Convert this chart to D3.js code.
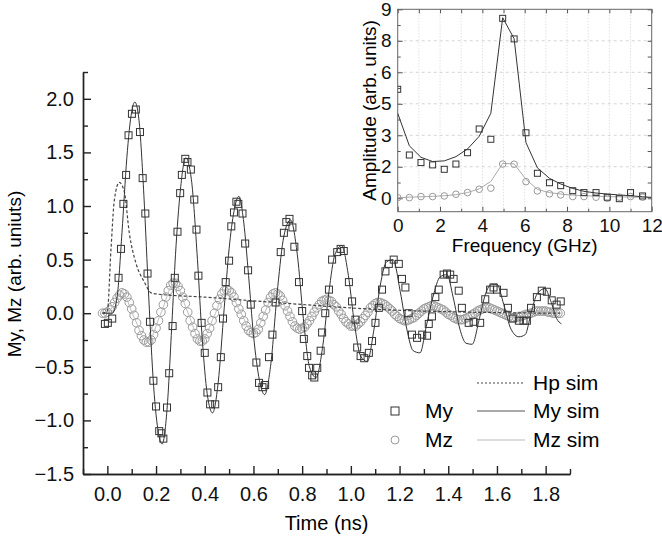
<!DOCTYPE html>
<html>
<head>
<meta charset="utf-8">
<script src="https://cdn.jsdelivr.net/npm/d3@7"></script>
<style>
  body { margin: 0; background: #fff; }
  text { font-family: "Liberation Sans", Arial, sans-serif; }
</style>
</head>
<body>
<div id="chart"></div>
<script>
// Data - main plot (time in ns, magnetisation in arb. units)

var myMeasured = [
  [-0.01,-0.10],[0.002,-0.09],[0.02,-0.05],[0.046,0.33],[0.056,0.60],[0.066,1.02],[0.077,1.29],
  [0.087,1.66],[0.101,1.86],[0.117,1.90],[0.134,1.69],[0.145,1.26],[0.156,0.93],[0.165,0.37],
  [0.175,-0.08],[0.189,-0.63],[0.200,-0.87],[0.213,-1.10],[0.222,-1.12],[0.230,-1.17],[0.245,-0.88],
  [0.254,-0.56],[0.268,-0.12],[0.277,0.33],[0.288,0.76],[0.299,1.12],[0.306,1.29],[0.320,1.44],
  [0.329,1.41],[0.343,1.34],[0.357,1.06],[0.366,0.78],[0.374,0.35],[0.387,-0.09],[0.400,-0.37],
  [0.411,-0.74],[0.422,-0.85],[0.443,-0.85],[0.455,-0.69],[0.466,-0.41],[0.475,-0.05],[0.486,0.29],
  [0.500,0.49],[0.509,0.81],[0.520,0.94],[0.530,1.04],[0.538,1.02],[0.555,0.93],[0.566,0.65],
  [0.578,0.40],[0.589,0.08],[0.612,-0.46],[0.623,-0.65],[0.637,-0.69],[0.648,-0.67],[0.664,-0.41],
  [0.678,-0.20],[0.691,0.10],[0.712,0.57],[0.725,0.75],[0.735,0.85],[0.748,0.88],[0.760,0.80],
  [0.768,0.62],[0.787,0.29],[0.800,0.02],[0.807,-0.24],[0.821,-0.40],[0.828,-0.51],[0.841,-0.58],
  [0.850,-0.60],[0.862,-0.51],[0.876,-0.35],[0.882,-0.18],[0.895,0.00],[0.910,0.22],[0.923,0.50],
  [0.944,0.57],[0.958,0.60],[0.971,0.58],[0.992,0.29],[1.005,0.11],[1.019,-0.06],[1.026,-0.32],
  [1.040,-0.40],[1.055,-0.42],[1.074,-0.37],[1.087,-0.26],[1.101,-0.09],[1.115,0.05],[1.128,0.22],
  [1.142,0.39],[1.156,0.46],[1.176,0.50],[1.197,0.46],[1.210,0.32],[1.224,0.24],[1.237,0.00],
  [1.251,-0.20],[1.272,-0.23],[1.293,-0.20],[1.313,-0.21],[1.320,-0.10],[1.333,-0.03],[1.347,0.15],
  [1.361,0.22],[1.381,0.36],[1.395,0.37],[1.408,0.36],[1.422,0.32],[1.443,0.21],[1.456,0.05],
  [1.484,-0.09],[1.504,-0.08],[1.531,-0.09],[1.552,0.13],[1.572,0.22],[1.586,0.24],[1.600,0.22],
  [1.627,0.19],[1.645,0.05],[1.665,-0.05],[1.690,-0.07],[1.709,-0.07],[1.723,-0.07],[1.740,0.05],
  [1.764,0.15],[1.784,0.21],[1.805,0.20],[1.825,0.12],[1.845,0.08],[1.862,0.11]
];

var mySim = [
  [-0.02,0.0],[0.02,0.0],[0.04,0.15],[0.06,0.75],[0.08,1.45],[0.10,1.88],[0.113,1.97],[0.13,1.80],
  [0.15,1.10],[0.17,0.15],[0.19,-0.68],[0.21,-1.12],[0.225,-1.22],[0.245,-0.90],[0.265,-0.10],
  [0.28,0.55],[0.30,1.15],[0.322,1.45],[0.345,1.25],[0.37,0.50],[0.39,-0.25],[0.41,-0.75],
  [0.432,-0.93],[0.455,-0.65],[0.48,0.05],[0.50,0.60],[0.52,0.95],[0.54,1.09],[0.56,0.85],
  [0.58,0.35],[0.60,-0.20],[0.625,-0.63],[0.646,-0.76],[0.67,-0.50],[0.70,0.25],[0.725,0.72],
  [0.752,0.87],[0.78,0.55],[0.805,-0.05],[0.83,-0.50],[0.857,-0.60],[0.885,-0.30],[0.91,0.20],
  [0.935,0.55],[0.962,0.63],[0.99,0.35],[1.015,-0.10],[1.04,-0.40],[1.067,-0.45],[1.095,-0.15],
  [1.12,0.25],[1.147,0.48],[1.173,0.50],[1.203,0.20],[1.23,-0.15],[1.256,-0.35],[1.284,-0.37],
  [1.31,-0.12],[1.337,0.15],[1.367,0.34],[1.395,0.36],[1.42,0.15],[1.448,-0.15],[1.473,-0.28],
  [1.498,-0.29],[1.528,-0.05],[1.553,0.18],[1.578,0.27],[1.60,0.27],[1.628,0.08],[1.658,-0.15],
  [1.69,-0.22],[1.716,-0.20],[1.74,0.00],[1.765,0.18],[1.797,0.23],[1.82,0.12],[1.845,-0.05],
  [1.865,-0.10]
];

var mzStart = -0.02, mzStep = 0.01;
var mzMeasured = [
  0.00,0.00,0.01,0.03,0.06,0.10,0.14,0.17,0.19,0.18,
  0.15,0.10,0.04,-0.02,-0.09,-0.16,-0.21,-0.25,-0.27,-0.27,
  -0.25,-0.20,-0.14,-0.07,0.01,0.08,0.15,0.21,0.26,0.28,
  0.28,0.25,0.21,0.15,0.09,0.01,-0.07,-0.13,-0.19,-0.24,
  -0.26,-0.26,-0.24,-0.19,-0.14,-0.07,0.00,0.07,0.13,0.18,
  0.21,0.22,0.21,0.19,0.15,0.10,0.04,-0.01,-0.07,-0.12,
  -0.16,-0.18,-0.19,-0.18,-0.15,-0.09,-0.03,0.03,0.10,0.15,
  0.18,0.19,0.18,0.16,0.12,0.07,0.02,-0.03,-0.08,-0.12,
  -0.14,-0.15,-0.14,-0.13,-0.10,-0.07,-0.03,0.01,0.05,0.08,
  0.11,0.12,0.13,0.12,0.11,0.08,0.06,0.02,-0.01,-0.05,
  -0.08,-0.10,-0.12,-0.12,-0.12,-0.10,-0.08,-0.05,-0.02,0.01,
  0.05,0.07,0.09,0.10,0.10,0.09,0.08,0.06,0.04,0.02,
  -0.01,-0.03,-0.05,-0.06,-0.07,-0.07,-0.06,-0.05,-0.04,-0.02,
  0.00,0.02,0.04,0.05,0.06,0.07,0.07,0.06,0.05,0.04,
  0.03,0.01,-0.01,-0.02,-0.04,-0.05,-0.06,-0.06,-0.06,-0.05,
  -0.04,-0.03,-0.01,0.00,0.02,0.03,0.04,0.05,0.05,0.05,
  0.04,0.03,0.02,0.01,0.00,-0.01,-0.02,-0.03,-0.04,-0.04,
  -0.04,-0.03,-0.03,-0.02,-0.01,-0.01,0.00,0.01,0.02,0.02,
  0.02,0.02,0.02,0.01,0.01,0.00,0.00,0.00,0.00
];

var mzSim = [
  [-0.02,0.0],[0.0,0.0],[0.03,0.10],[0.06,0.19],[0.11,-0.04],[0.165,-0.27],[0.22,0.0],[0.275,0.28],
  [0.33,0.01],[0.385,-0.26],[0.44,-0.02],[0.49,0.22],[0.545,0.02],[0.60,-0.19],[0.645,0.0],
  [0.69,0.19],[0.74,0.02],[0.79,-0.15],[0.845,-0.01],[0.90,0.13],[0.955,0.0],[1.01,-0.12],
  [1.06,-0.01],[1.115,0.10],[1.17,0.01],[1.225,-0.07],[1.28,0.0],[1.335,0.07],[1.39,0.0],
  [1.45,-0.06],[1.505,0.0],[1.56,0.05],[1.615,0.0],[1.67,-0.04],[1.725,-0.01],[1.78,0.02],
  [1.86,0.0]
];

var hpSim = [
  [-0.02,0.0],[0.0,0.02],[0.015,0.60],[0.029,1.06],[0.049,1.22],[0.07,1.13],[0.09,0.75],
  [0.117,0.47],[0.152,0.29],[0.18,0.19],[0.20,0.18],[0.40,0.15],[0.69,0.10],[1.07,0.04],
  [1.48,0.01],[1.86,0.0]
];

var xTicks = [0, 0.2, 0.4, 0.6, 0.8, 1.0, 1.2, 1.4, 1.6, 1.8];
var yTicks = [-1.5, -1.0, -0.5, 0.0, 0.5, 1.0, 1.5, 2.0];

// Data - inset (frequency in GHz, amplitude in arb. units)

var fftFreq = [0, 0.55, 1.1, 1.65, 2.2, 2.75, 3.3, 3.85, 4.4, 4.96, 5.5, 6.06, 6.6, 7.17, 7.7, 8.27, 8.8, 9.37, 9.9, 10.47, 11.0, 11.57];
var myAmp = [5.19, 2.06, 1.70, 1.59, 1.38, 1.63, 2.17, 3.30, 2.81, 8.57, 7.59, 3.12, 1.19, 0.74, 0.60, 0.36, 0.27, 0.27, 0.05, -0.02, 0.27, 0.11];
var mzAmp = [0.03, 0.03, 0.08, 0.08, 0.11, 0.19, 0.27, 0.43, 0.48, 1.63, 1.62, 0.79, 0.35, 0.21, 0.16, 0.08, 0.08, 0.05, 0.00, 0.05, 0.08, 0.05];

var simFreq = [0, 0.55, 1.1, 1.65, 2.2, 2.75, 3.3, 3.85, 4.4, 4.96, 5.5, 6.06, 6.6, 7.17, 7.7, 8.27, 8.8, 9.37, 9.9, 10.47, 11.0, 11.57, 12];
var mySimAmp = [4.05, 2.50, 1.95, 1.75, 1.78, 1.98, 2.35, 2.95, 4.05, 8.60, 7.60, 2.65, 1.45, 0.95, 0.68, 0.47, 0.33, 0.25, 0.20, 0.16, 0.12, 0.07, 0.04];
var mzSimAmp = [0.03, 0.05, 0.07, 0.09, 0.12, 0.17, 0.27, 0.45, 0.80, 1.66, 1.64, 0.90, 0.42, 0.27, 0.20, 0.15, 0.12, 0.10, 0.08, 0.07, 0.06, 0.05, 0.04];

var insetYTicks = [0, 1.5, 3, 4.5, 6, 7.5, 9];
var insetYLabels = ["0", "2", "3", "5", "6", "8", "9"];
var insetXTicks = [0, 2, 4, 6, 8, 10, 12];

// Size

var w = 662, h = 543;
var fontSize = 20, insetFont = 19, legendFont = 21;

var svg = d3.select("#chart")
  .append("svg")
    .attr("width", w)
    .attr("height", h);

// Scales - main

var x = d3.scaleLinear().domain([-0.1, 1.9]).range([83, 570]);
var y = d3.scaleLinear().domain([-1.5, 2.25]).range([474, 72]);

// Axes - main

svg.append("g")
  .attr("transform", `translate(0, ${y(-1.5)})`)
  .call(d3.axisBottom(x).tickValues(xTicks).tickSizeInner(-8).tickSizeOuter(0)
    .tickPadding(13).tickFormat(d3.format(".1f")));
svg.append("g")
  .attr("transform", `translate(0, ${y(-1.5)})`)
  .call(d3.axisBottom(x).tickValues(d3.range(-0.1, 1.95, 0.2)).tickSizeInner(-5).tickSizeOuter(0)
    .tickFormat(""));

svg.append("g")
  .attr("transform", `translate(${x(-0.1)}, 0)`)
  .call(d3.axisLeft(y).tickValues(yTicks).tickSizeInner(-8).tickSizeOuter(0)
    .tickPadding(9).tickFormat(d3.format(".1f")));
svg.append("g")
  .attr("transform", `translate(${x(-0.1)}, 0)`)
  .call(d3.axisLeft(y).tickValues(d3.range(-1.25, 2.3, 0.5)).tickSizeInner(-5).tickSizeOuter(0)
    .tickFormat(""));

svg.selectAll(".domain, .tick line").attr("stroke", "#222").attr("stroke-width", 1.4);
svg.selectAll(".tick text").attr("font-size", fontSize).attr("fill", "#111")
  .attr("font-family", "Liberation Sans, Arial, sans-serif");

svg.append("text")
  .attr("x", (x(-0.1) + x(1.9)) / 2)
  .attr("y", 530)
  .attr("text-anchor", "middle")
  .attr("font-size", fontSize)
  .text("Time (ns)");

svg.append("text")
  .attr("transform", "translate(21, 274) rotate(-90)")
  .attr("text-anchor", "middle")
  .attr("font-size", 19)
  .text("My, Mz (arb. uniuts)");

// Series - main

var simLine = d3.line()
  .x(d => x(d[0]))
  .y(d => y(d[1]))
  .curve(d3.curveMonotoneX);

svg.append("g")
  .selectAll("circle")
  .data(mzMeasured)
  .enter()
  .append("circle")
    .attr("cx", (d, i) => x(mzStart + i * mzStep))
    .attr("cy", d => y(d))
    .attr("r", 4.3)
    .attr("fill", "none")
    .attr("stroke", "#9a9a9a")
    .attr("stroke-width", 1);

svg.append("path")
  .datum(mzSim)
  .attr("d", simLine)
  .attr("fill", "none")
  .attr("stroke", "#bbb")
  .attr("stroke-width", 1);

svg.append("path")
  .datum(hpSim)
  .attr("d", simLine)
  .attr("fill", "none")
  .attr("stroke", "#444")
  .attr("stroke-width", 1.2)
  .attr("stroke-dasharray", "3,2");

svg.append("path")
  .datum(mySim)
  .attr("d", simLine)
  .attr("fill", "none")
  .attr("stroke", "#333")
  .attr("stroke-width", 1);

var sq = 7;
svg.append("g")
  .selectAll("rect")
  .data(myMeasured)
  .enter()
  .append("rect")
    .attr("x", d => x(d[0]) - sq / 2)
    .attr("y", d => y(d[1]) - sq / 2)
    .attr("width", sq)
    .attr("height", sq)
    .attr("fill", "none")
    .attr("stroke", "#333")
    .attr("stroke-width", 1);

// Legend

var legend = svg.append("g").attr("font-size", legendFont);
var legendRows = [
  {label: "Hp sim", y: 390, stroke: "#444", dash: "2,2"},
  {label: "My sim", y: 418, stroke: "#555", dash: null},
  {label: "Mz sim", y: 447, stroke: "#bbb", dash: null}
];
legendRows.forEach(function (r) {
  legend.append("line")
    .attr("x1", 477).attr("x2", 525)
    .attr("y1", r.y - 7).attr("y2", r.y - 7)
    .attr("stroke", r.stroke)
    .attr("stroke-width", 1.2)
    .attr("stroke-dasharray", r.dash);
  legend.append("text").attr("x", 533).attr("y", r.y).text(r.label);
});
legend.append("rect")
  .attr("x", 391).attr("y", 407).attr("width", 8).attr("height", 8)
  .attr("fill", "none").attr("stroke", "#333");
legend.append("text").attr("x", 425).attr("y", 418).text("My");
legend.append("circle")
  .attr("cx", 395).attr("cy", 440).attr("r", 4)
  .attr("fill", "none").attr("stroke", "#9a9a9a");
legend.append("text").attr("x", 425).attr("y", 447).text("Mz");

// Inset

var fx = d3.scaleLinear().domain([0, 12]).range([397.7, 651.7]);
var fy = d3.scaleLinear().domain([-0.64, 9]).range([211.7, 9.3]);

var inset = svg.append("g");

inset.append("rect")
  .attr("x", fx(0)).attr("y", fy(9))
  .attr("width", fx(12) - fx(0)).attr("height", fy(-0.64) - fy(9))
  .attr("fill", "#fff");

// grid
inset.append("g")
  .selectAll("line")
  .data(d3.range(1, 12))
  .enter()
  .append("line")
    .attr("x1", d => fx(d)).attr("x2", d => fx(d))
    .attr("y1", fy(9)).attr("y2", fy(-0.64))
    .attr("stroke", "#d4d4d4")
    .attr("stroke-dasharray", "1,2");
inset.append("g")
  .selectAll("line")
  .data(insetYTicks.slice(1, -1))
  .enter()
  .append("line")
    .attr("x1", fx(0)).attr("x2", fx(12))
    .attr("y1", d => fy(d)).attr("y2", d => fy(d))
    .attr("stroke", "#d4d4d4")
    .attr("stroke-dasharray", "3,3");

var tickFmt = (d, i) => insetYLabels[i];

inset.append("g")
  .attr("transform", `translate(0, ${fy(-0.64)})`)
  .call(d3.axisBottom(fx).tickValues(insetXTicks).tickSizeInner(-5).tickSizeOuter(0).tickPadding(7));
inset.append("g")
  .attr("transform", `translate(0, ${fy(-0.64)})`)
  .call(d3.axisBottom(fx).tickValues(d3.range(1, 12, 2)).tickSizeInner(-3).tickSizeOuter(0).tickFormat(""));
inset.append("g")
  .attr("transform", `translate(0, ${fy(9)})`)
  .call(d3.axisTop(fx).tickValues(d3.range(0, 13)).tickSizeInner(-4).tickSizeOuter(0).tickFormat(""));

inset.append("g")
  .attr("transform", `translate(${fx(0)}, 0)`)
  .call(d3.axisLeft(fy).tickValues(insetYTicks).tickSizeInner(-5).tickSizeOuter(0).tickPadding(6)
    .tickFormat(tickFmt));
inset.append("g")
  .attr("transform", `translate(${fx(0)}, 0)`)
  .call(d3.axisLeft(fy).tickValues(d3.range(0.75, 9, 1.5)).tickSizeInner(-3).tickSizeOuter(0).tickFormat(""));
inset.append("g")
  .attr("transform", `translate(${fx(12)}, 0)`)
  .call(d3.axisRight(fy).tickValues(d3.range(0, 9.1, 0.75)).tickSizeInner(-4).tickSizeOuter(0).tickFormat(""));

inset.selectAll(".domain").remove();
inset.selectAll(".tick line").attr("stroke", "#555").attr("stroke-width", 1);
inset.selectAll(".tick text").attr("font-size", insetFont).attr("fill", "#111")
  .attr("font-family", "Liberation Sans, Arial, sans-serif");

inset.append("rect")
  .attr("x", fx(0)).attr("y", fy(9))
  .attr("width", fx(12) - fx(0)).attr("height", fy(-0.64) - fy(9))
  .attr("fill", "none")
  .attr("stroke", "#666")
  .attr("stroke-width", 1);

svg.append("defs").append("clipPath").attr("id", "insetclip")
  .append("rect")
    .attr("x", fx(0)).attr("y", fy(9))
    .attr("width", fx(12) - fx(0)).attr("height", fy(-0.64) - fy(9));

var plot = inset.append("g").attr("clip-path", "url(#insetclip)");

var ampLine = d3.line()
  .x((d, i) => fx(simFreq[i]))
  .y(d => fy(d));

plot.append("path")
  .datum(mzSimAmp)
  .attr("d", ampLine)
  .attr("fill", "none")
  .attr("stroke", "#aaa")
  .attr("stroke-width", 1);

plot.append("path")
  .datum(mySimAmp)
  .attr("d", ampLine)
  .attr("fill", "none")
  .attr("stroke", "#333")
  .attr("stroke-width", 1);

plot.append("g")
  .selectAll("circle")
  .data(mzAmp)
  .enter()
  .append("circle")
    .attr("cx", (d, i) => fx(fftFreq[i]))
    .attr("cy", d => fy(d))
    .attr("r", 3.3)
    .attr("fill", "none")
    .attr("stroke", "#999");

plot.append("g")
  .selectAll("rect")
  .data(myAmp)
  .enter()
  .append("rect")
    .attr("x", (d, i) => fx(fftFreq[i]) - 3)
    .attr("y", d => fy(d) - 3)
    .attr("width", 6)
    .attr("height", 6)
    .attr("fill", "none")
    .attr("stroke", "#333");

svg.append("text")
  .attr("x", (fx(0) + fx(12)) / 2)
  .attr("y", 252)
  .attr("text-anchor", "middle")
  .attr("font-size", insetFont)
  .text("Frequency (GHz)");

svg.append("text")
  .attr("transform", `translate(376, ${(fy(9) + fy(-0.64)) / 2}) rotate(-90)`)
  .attr("text-anchor", "middle")
  .attr("font-size", insetFont)
  .text("Amplitude (arb. units)");
</script>
</body>
</html>
